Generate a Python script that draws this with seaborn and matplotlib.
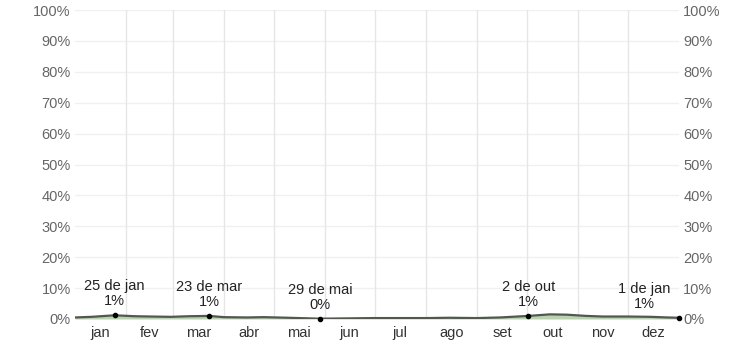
import matplotlib
matplotlib.use("Agg")
import matplotlib.pyplot as plt
import seaborn as sns
import pandas as pd
import numpy as np

sns.set_theme(style="white")
plt.rcParams['font.family'] = ['Liberation Sans', 'DejaVu Sans']

# Day of year (0 = 1 Jan) and chance (%)
days = [0, 10, 24, 36, 46, 58, 69, 81, 90, 104, 114, 129, 148, 165, 181,
        195, 212, 226, 243, 257, 274, 287, 297, 309, 319, 334, 348, 358, 365]
values = [0.5, 0.7, 1.2, 0.9, 0.8, 0.7, 0.9, 1.0, 0.6, 0.5, 0.6, 0.4, 0.1, 0.2, 0.3,
          0.3, 0.3, 0.4, 0.3, 0.5, 1.0, 1.5, 1.4, 1.0, 0.8, 0.8, 0.7, 0.5, 0.4]

month_starts = [0, 31, 59, 90, 120, 151, 181, 212, 243, 273, 304, 334, 365]
month_labels = ["jan", "fev", "mar", "abr", "mai", "jun", "jul", "ago", "set", "out", "nov", "dez"]

ann_days = [24, 81, 148, 274, 365]
ann_dates = ["25 de jan", "23 de mar", "29 de mai", "2 de out", "1 de jan"]
ann_vals = [1.2, 1.0, 0.1, 1.0, 0.4]
ann_text = ["1%", "1%", "0%", "1%", "1%"]

yticks = list(range(0, 101, 10))

df = pd.DataFrame({"day": days, "value": values})

fig = plt.figure(figsize=(7.53, 3.42), dpi=100)
ax = fig.add_axes([75/753, 1-319/342, (679-75)/753, (319-10)/342])

ax.fill_between(df["day"], 0, df["value"], color="#b8d4ad", lw=0, zorder=2)
sns.lineplot(data=df, x="day", y="value", ax=ax, color="#555555", lw=1.6, zorder=3)

ax.set_xlim(0, 365)
ax.set_ylim(0, 100)

for s in ax.spines.values():
    s.set_visible(False)

for y in yticks:
    ax.axhline(y, color="#f0f0f0", lw=1, zorder=0)
for d in month_starts[1:-1]:
    ax.axvline(d, color="#e6e6e6", lw=1, zorder=0)

ax.set_yticks(yticks)
ax.set_yticklabels([f"{y}%" for y in yticks])
ax.tick_params(axis="y", length=0, labelsize=10.5, colors="#666666", pad=3,
               labelright=True, right=False)
mids = [(month_starts[i] + month_starts[i+1]) / 2 for i in range(12)]
ax.set_xticks(mids)
ax.set_xticklabels(month_labels)
ax.tick_params(axis="x", length=0, labelsize=10.5, colors="#333333", pad=5)
ax.set_xlabel("")
ax.set_ylabel("")

for d, lab, v, t in zip(ann_days, ann_dates, ann_vals, ann_text):
    ax.plot([d], [v], "o", color="black", ms=3, zorder=5, clip_on=False)
    ha_x = d if d < 360 else d - 21
    ax.annotate(lab + "\n" + t, (ha_x, v), xytext=(0, 5), textcoords="offset points",
                ha="center", va="bottom", fontsize=10.5, color="#222222",
                linespacing=1.1, zorder=6)

fig.savefig("out.png", dpi=100)
